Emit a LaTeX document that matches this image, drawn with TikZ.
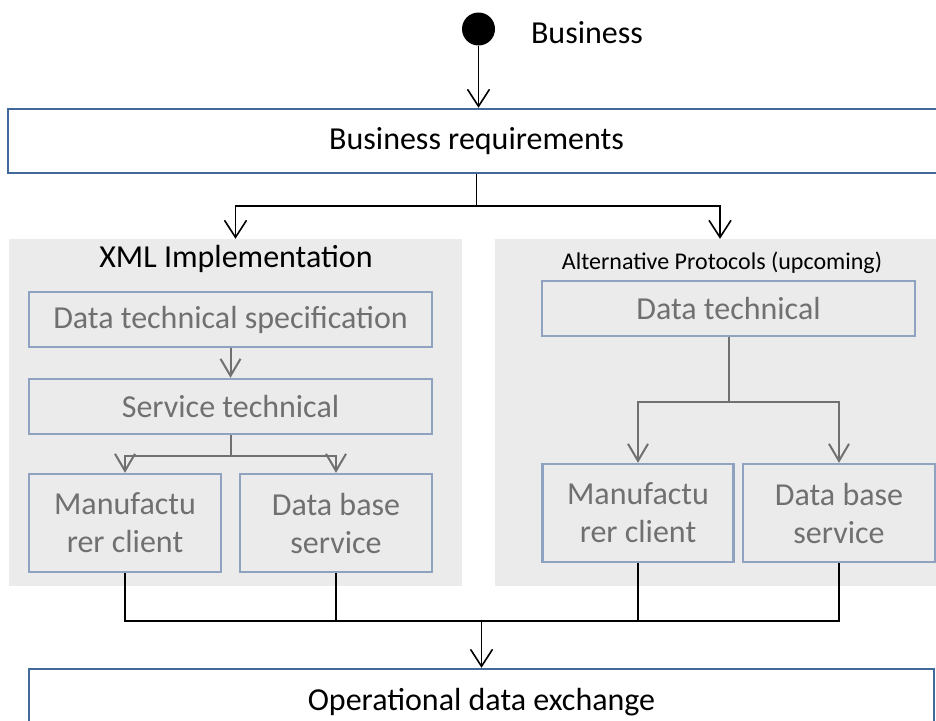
\documentclass[tikz,border=0pt]{standalone}
\usepackage{fontspec}
\setmainfont{Carlito}
\usetikzlibrary{arrows.meta}
\definecolor{cB}{HTML}{41699B}
\definecolor{cL}{HTML}{8FA2BF}
\definecolor{cT}{HTML}{707070}
\definecolor{cP}{HTML}{EBEBEB}
\tikzset{
  big/.style={font=\fontsize{32}{38}\selectfont},
  outerbox/.style={draw=cB,line width=2.4pt,fill=white,big,inner sep=0pt},
  innerbox/.style={draw=cL,line width=2.4pt,text=cT,big,align=center,inner sep=0pt},
  panel/.style={fill=cP,inner sep=0pt},
  link/.style={line width=1.6pt,line join=miter},
  arr/.style={link,-{Straight Barb[length=17pt,width=22pt]}},
  garr/.style={cT,line width=2pt,-{Straight Barb[length=17pt,width=20pt]}}}

\begin{document}
\begin{tikzpicture}[x=1pt,y=-1pt]
  \useasboundingbox (0,0) rectangle (936,720);
  % start and requirements
  \node[circle,fill=black,minimum size=33pt,inner sep=0pt] (start) at (478.5,29) {};
  \node[big] (bizlbl) at (587,33) {Business};
  \node[outerbox,minimum width=937pt,minimum height=64pt] (req) at (476.5,141) {Business requirements};
  \draw[arr] (start.south) -- (start.south |- req.north);
  % panels
  \node[panel,minimum width=453pt,minimum height=347pt] (xml) at (235.5,412.5) {};
  \node[panel,minimum width=450pt,minimum height=347pt] (alt) at (720,412.5) {};
  \node[big] (xmllbl) at (236,259) {XML Implementation};
  \node[font=\fontsize{24}{29}\selectfont] (altlbl) at (722,263) {Alternative Protocols (upcoming)};
  \draw[arr] (req.south) -- ++(0,32) -| (xml.north);
  \draw[arr] (req.south) -- ++(0,32) -| (alt.north);
  % XML side
  \node[innerbox,minimum width=403pt,minimum height=55pt] (dts) at (230.5,319.5) {Data technical specification};
  \node[innerbox,minimum width=403pt,minimum height=55pt] (stec) at (230.5,406.5) {Service technical};
  \node[innerbox,minimum width=192pt,minimum height=98pt] (mfc) at (125,523) {Manufactu\\rer client};
  \node[innerbox,minimum width=192pt,minimum height=98pt] (dbs) at (336,523) {Data base\\service};
  \draw[garr] (dts) -- (stec);
  \draw[garr] (stec.south) -- ++(0,21) -| (mfc.north);
  \draw[garr] (stec.south) -- ++(0,21) -| (dbs.north);
  % alternative side
  \node[innerbox,minimum width=373pt,minimum height=55pt] (dtec) at (728.5,308.5) {Data technical};
  \node[innerbox,minimum width=191pt,minimum height=98pt] (mfc2) at (638,513) {Manufactu\\rer client};
  \node[innerbox,minimum width=192pt,minimum height=98pt] (dbs2) at (839,513) {Data base\\service};
  \draw[garr] (dtec.south) -- ++(0,65) -| (mfc2.north);
  \draw[garr] (dtec.south) -- ++(0,65) -| (dbs2.north);
  % operational exchange
  \node[outerbox,minimum width=905pt,minimum height=66pt] (ode) at (481.5,702) {Operational data exchange};
  \coordinate (join) at (481.5,621);
  \draw[link,line width=2.2pt] (mfc.south) -- (mfc.south |- join) -- (dbs2.south |- join) -- (dbs2.south);
  \draw[link] (dbs.south) -- (dbs.south |- join);
  \draw[link] (mfc2.south) -- (mfc2.south |- join);
  \draw[arr] (join) -- (ode.north);
\end{tikzpicture}
\end{document}
